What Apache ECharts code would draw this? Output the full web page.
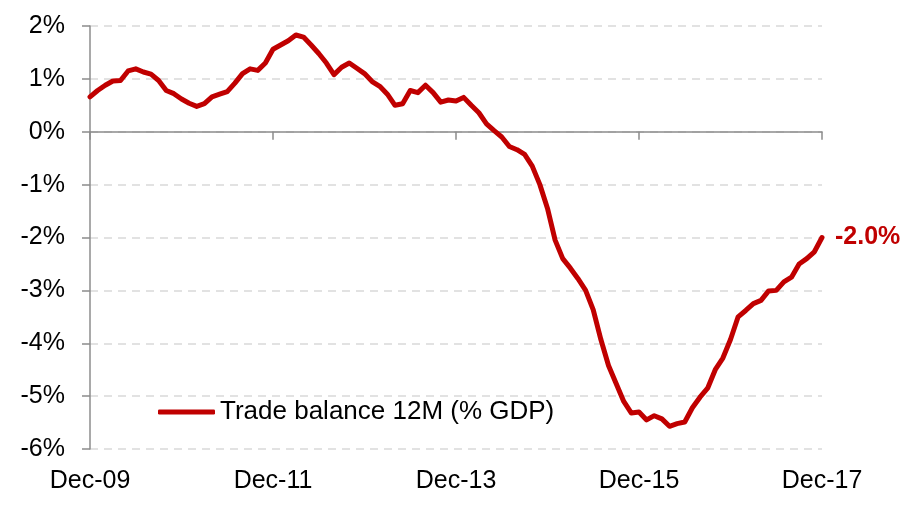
<!DOCTYPE html>
<html><head><meta charset="utf-8">
<script src="https://cdn.jsdelivr.net/npm/echarts@6/dist/echarts.min.js"></script>
<style>html,body{margin:0;padding:0;background:#fff}#c{width:914px;height:505px}</style>
</head><body><div id="c"></div>
<script>
// Monthly categories Dec-09 .. Dec-17
const monthNames = ['Jan','Feb','Mar','Apr','May','Jun','Jul','Aug','Sep','Oct','Nov','Dec'];
const categories = [];
for (let y = 2009; y <= 2017; y++) {
  for (let m = 0; m < 12; m++) {
    if (y === 2009 && m < 11) continue;
    categories.push(monthNames[m] + '-' + String(y).slice(2));
  }
}
const seriesName = 'Trade balance 12M (% GDP)';
const tradeBalance = [
  0.66, 0.78, 0.88, 0.96, 0.97, 1.15, 1.19, 1.13, 1.09, 0.97,
  0.78, 0.72, 0.62, 0.54, 0.48, 0.53, 0.66, 0.71, 0.76, 0.92,
  1.10, 1.19, 1.16, 1.30, 1.56, 1.64, 1.72, 1.83, 1.79, 1.64,
  1.48, 1.30, 1.08, 1.22, 1.30, 1.20, 1.10, 0.95, 0.86, 0.71,
  0.50, 0.53, 0.78, 0.74, 0.88, 0.74, 0.56, 0.60, 0.58, 0.65,
  0.50, 0.36, 0.15, 0.02, -0.10, -0.28, -0.34, -0.43, -0.65, -1.00,
  -1.45, -2.05, -2.40, -2.58, -2.78, -3.00, -3.37, -3.93, -4.42, -4.76,
  -5.10, -5.32, -5.30, -5.45, -5.37, -5.43, -5.57, -5.52, -5.49, -5.22,
  -5.02, -4.85, -4.50, -4.28, -3.93, -3.50, -3.38, -3.25, -3.19, -3.01,
  -3.00, -2.84, -2.75, -2.50, -2.40, -2.27, -2.00
];
const yMin = -6, yMax = 2, yStep = 1;
const FONT = 'Liberation Sans, Arial, sans-serif';
const RED = '#c00000';
const AXIS = '#8c8c8c';

const chart = echarts.init(document.getElementById('c'), null, {renderer: 'canvas'});
chart.setOption({
  animation: false,
  backgroundColor: '#fff',
  textStyle: {fontFamily: FONT},
  grid: {left: 90, right: 92, top: 26, bottom: 56, containLabel: false},
  legend: {
    show: true, left: 153, top: 394, itemWidth: 57, itemHeight: 5, itemGap: 5,
    icon: 'roundRect',
    textStyle: {fontSize: 26, color: '#000', fontFamily: FONT, padding: [0,0,0,0]},
    data: [seriesName]
  },
  xAxis: [{
    type: 'category', data: categories, boundaryGap: false, position: 'bottom',
    axisLine: {show: false, onZero: false}, axisTick: {show: false},
    axisLabel: {interval: 23, fontSize: 25, color: '#000', margin: 20, fontFamily: FONT},
    splitLine: {show: false}
  }, {
    type: 'category', data: categories, boundaryGap: false, position: 'top',
    axisLine: {show: true, onZero: true, lineStyle: {color: AXIS, width: 1.5}},
    axisTick: {show: true, interval: 23, inside: true, length: 8, lineStyle: {color: AXIS, width: 1.5}},
    axisLabel: {show: false}, splitLine: {show: false}
  }],
  yAxis: {
    type: 'value', min: yMin, max: yMax, interval: yStep,
    axisLine: {show: true, onZero: false, lineStyle: {color: AXIS, width: 1.5}},
    axisTick: {show: true, length: 8, lineStyle: {color: AXIS, width: 1.5}},
    axisLabel: {formatter: v => v + '%', fontSize: 25, color: '#000', margin: 25, fontFamily: FONT, padding: [4, 0, 0, 0]},
    splitLine: {show: true, lineStyle: {color: '#d9d9d9', width: 1.5, type: [8, 6]}}
  },
  series: [{
    name: seriesName, type: 'line', data: tradeBalance, xAxisIndex: 0,
    symbol: 'none', smooth: false,
    lineStyle: {color: RED, width: 5, cap: 'round', join: 'round'},
    itemStyle: {color: RED},
    endLabel: {
      show: true, distance: 13,
      formatter: p => p.value.toFixed(1) + '%',
      color: RED, fontWeight: 'bold', fontSize: 25, fontFamily: FONT
    }
  }]
});
</script></body></html>
